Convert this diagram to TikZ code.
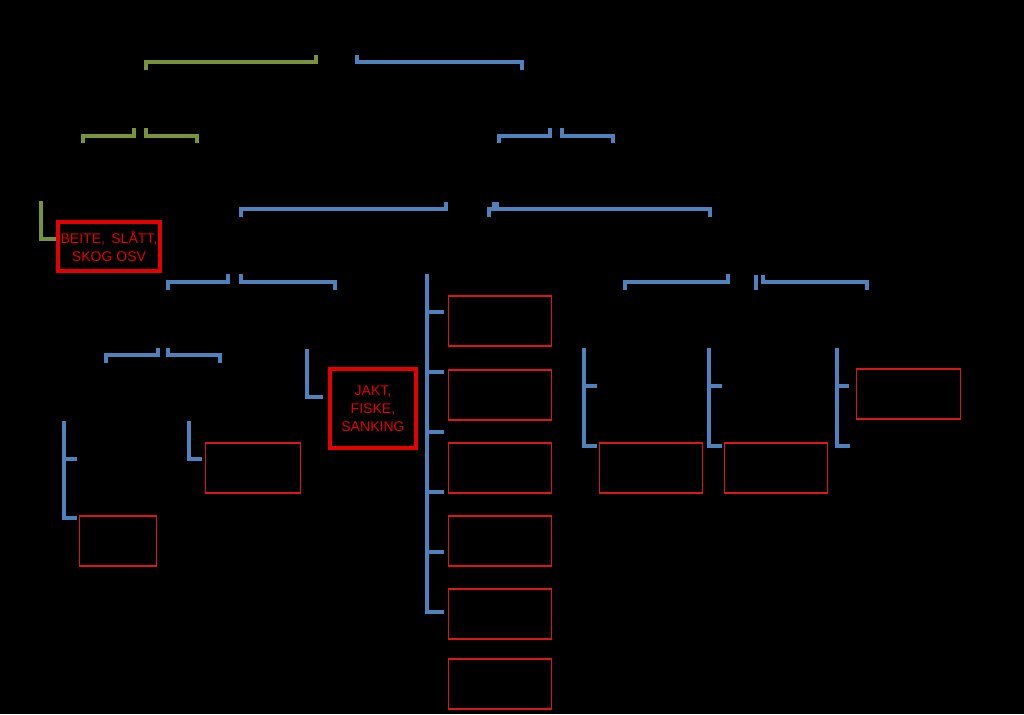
\documentclass[tikz,border=0pt]{standalone}
\usepackage{fontspec}
\setmainfont{Liberation Sans}
\usetikzlibrary{positioning}

\definecolor{olivegreen}{RGB}{119,147,60}
\definecolor{officeblue}{RGB}{79,129,189}
\definecolor{boxred}{RGB}{220,22,24}
\definecolor{mainred}{RGB}{228,0,0}

\tikzset{
  gline/.style={draw=olivegreen, line width=2pt},
  bline/.style={draw=officeblue, line width=2pt},
  emptybox/.style={draw=boxred, line width=1pt, inner sep=0pt, minimum width=2.06cm, minimum height=1cm},
  mainbox/.style={draw=mainred, line width=2.3pt, inner sep=0pt, text=mainred, align=center,
    font=\fontsize{8}{10.3}\selectfont}
}

\begin{document}
\begin{tikzpicture}[x=0.02cm, y=-0.02cm]
    \fill[black] (0,0) rectangle (1024,714);
    \useasboundingbox (0,0) rectangle (1024,714);

    % boxes that are seen
    \node[mainbox, minimum width=2.04cm, minimum height=0.98cm] (beite) at (109,246.5) {BEITE,\, SLÅTT,\\SKOG OSV};
    \node[mainbox, minimum width=1.72cm, minimum height=1.58cm] (jakt) at (373,408.5) {JAKT,\\FISKE,\\SANKING};
    \node[emptybox] (mid1) at (500,320.8) {};
    \node[emptybox] (mid2) at (500,394.8) {};
    \node[emptybox] (mid3) at (500,468) {};
    \node[emptybox] (mid4) at (500,541) {};
    \node[emptybox] (mid5) at (500,614) {};
    \node[emptybox] (mid6) at (500,684) {};
    \node[emptybox, minimum width=1.54cm] (left1) at (118,541) {};
    \node[emptybox, minimum width=1.9cm] (left2) at (253,468) {};
    \node[emptybox] (right1) at (651,468) {};
    \node[emptybox] (right2) at (776,468) {};
    \node[emptybox, minimum width=2.08cm] (right3) at (908.5,394) {};

    % ends of the connectors
    \coordinate (root-l) at (316,55);
    \coordinate (root-r) at (357,55);
    \coordinate (natur) at (146,70);
    \coordinate (natur-l) at (134,128);
    \coordinate (natur-r) at (146,128);
    \coordinate (natur1) at (83,143);
    \coordinate (natur2) at (197,143);
    \coordinate (natur1-b) at (41,201);
    \coordinate (kultur) at (522,70);
    \coordinate (kultur-l) at (550,128);
    \coordinate (kultur-r) at (562,128);
    \coordinate (kultur1) at (499,143);
    \coordinate (kultur2) at (613,143);
    \coordinate (kultur1-l) at (446,202);
    \coordinate (kultur1-m) at (494,202);
    \coordinate (kultur1-r) at (497,202);
    \coordinate (bruk) at (241,217);
    \coordinate (bruk-l) at (228,274);
    \coordinate (bruk-r) at (241,274);
    \coordinate (spor) at (489,217);
    \coordinate (spor-b) at (427,274);
    \coordinate (bygg) at (710,217);
    \coordinate (bygg-l) at (728,274);
    \coordinate (bygg-m) at (756,275);
    \coordinate (bygg-r) at (763,275);
    \coordinate (bygg1) at (625,290);
    \coordinate (bygg2) at (756,290);
    \coordinate (bygg3) at (867,290);
    \coordinate (dyrk) at (168,290);
    \coordinate (utmark) at (335,290);
    \coordinate (dyrk-l) at (158,348);
    \coordinate (dyrk-r) at (168,348);
    \coordinate (dyrk1) at (106,363);
    \coordinate (dyrk2) at (220,363);
    \coordinate (utmark-b) at (307,349);
    \coordinate (dyrk1-b) at (64,421);
    \coordinate (dyrk2-b) at (189,421);
    \coordinate (bygg1-b) at (584,348);
    \coordinate (bygg2-b) at (709,348);
    \coordinate (bygg3-b) at (837,348);

    % green branch
    \draw[gline] (root-l) -- ++(0,7) -| (natur);
    \draw[gline] (natur-l) -- ++(0,8) -| (natur1);
    \draw[gline] (natur-r) -- ++(0,8) -| (natur2);
    \draw[gline] (natur1-b) |- ([yshift=0.15cm]beite.west);

    % blue branch
    \draw[bline] (root-r) -- ++(0,7) -| (kultur);
    \draw[bline] (kultur-l) -- ++(0,8) -| (kultur1);
    \draw[bline] (kultur-r) -- ++(0,8) -| (kultur2);
    \draw[bline] (kultur1-l) -- ++(0,7) -| (bruk);
    \draw[bline] (kultur1-m) -- ++(0,7) -| (spor);
    \draw[bline] (kultur1-r) -- ++(0,7) -| (bygg);
    \draw[bline] (bruk-l) -- ++(0,8) -| (dyrk);
    \draw[bline] (bruk-r) -- ++(0,8) -| (utmark);
    \draw[bline] (bygg-l) -- ++(0,8) -| (bygg1);
    \draw[bline] (bygg-m) -- (bygg2);
    \draw[bline] (bygg-r) -- ++(0,7) -| (bygg3);
    \draw[bline] (dyrk-l) -- ++(0,7) -| (dyrk1);
    \draw[bline] (dyrk-r) -- ++(0,7) -| (dyrk2);
    \draw[bline] (utmark-b) |- ([xshift=-0.1cm, yshift=0.23cm]jakt.west);

    % left columns
    \draw[bline] (dyrk1-b) |- ++(13,38);
    \draw[bline] (dyrk1-b) |- ([xshift=-0.04cm, yshift=-0.06cm]left1.north west);
    \draw[bline] (dyrk2-b) |- ([xshift=-0.06cm, yshift=0.18cm]left2.west);

    % middle column
    \draw[bline] (spor-b) |- ++(17,38);
    \draw[bline] (spor-b) |- ++(17,98);
    \draw[bline] (spor-b) |- ++(17,158);
    \draw[bline] (spor-b) |- ++(17,218);
    \draw[bline] (spor-b) |- ++(17,278);
    \draw[bline] (spor-b) |- ++(17,338);

    % right columns
    \draw[bline] (bygg1-b) |- ++(13,38);
    \draw[bline] (bygg1-b) |- ([xshift=-0.04cm, yshift=-0.08cm]right1.north west);
    \draw[bline] (bygg2-b) |- ++(13,38);
    \draw[bline] (bygg2-b) |- ([xshift=-0.04cm, yshift=-0.08cm]right2.north west);
    \draw[bline] (bygg3-b) |- ([xshift=-0.14cm, yshift=0.16cm]right3.west);
    \draw[bline] (bygg3-b) |- ++(13,98);
\end{tikzpicture}
\end{document}
